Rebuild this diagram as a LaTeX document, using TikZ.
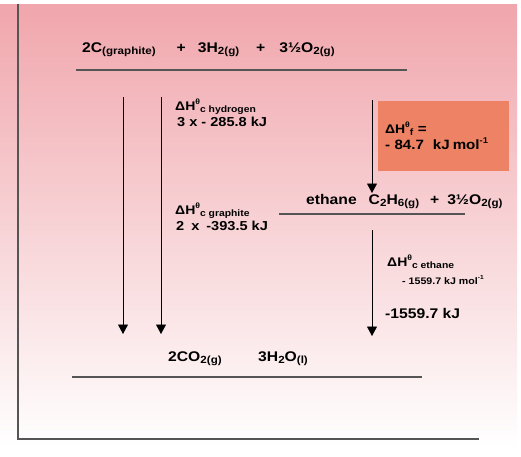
\documentclass[tikz,border=0pt]{standalone}
\usepackage{fontspec}
\setmainfont{Liberation Sans}[FakeStretch=1.12]
\usetikzlibrary{arrows.meta,positioning}
\makeatletter
\newcommand\sbs[1]{\raisebox{-0.35ex}{\fontsize{\fpeval{0.74*\f@size}}{1}\selectfont #1}}
\newcommand\sps[1]{\raisebox{0.85ex}{\fontsize{\fpeval{0.62*\f@size}}{1}\selectfont #1}}
\makeatother
\newcommand\dH[1]{{\fontsize{12.5}{14}\selectfont ΔH\sps{θ}\sbs{#1}}}
\definecolor{bgpink}{RGB}{240,166,172}
\definecolor{boxorange}{RGB}{237,130,100}
\definecolor{axisgray}{RGB}{85,85,85}

\begin{document}
\begin{tikzpicture}[x=1pt,y=-1pt,
  every node/.style={inner sep=0pt,font=\bfseries},
  species/.style={anchor=base west,font=\fontsize{14}{16}\bfseries},
  dhlabel/.style={anchor=base west,align=left,font=\fontsize{13}{16}\bfseries},
  formbox/.style={fill=boxorange,inner sep=7pt,text width=117pt,minimum height=70pt,align=left,font=\fontsize{13.5}{16}\bfseries},
  level/.style={draw=axisgray,line width=1.1pt},
  change/.style={draw=black,line width=0.8pt,-{Triangle[width=10pt,length=9.5pt]}},
  axis/.style={draw=axisgray,line width=1.2pt}]
 \useasboundingbox (0,0) rectangle (521,456);
 \shade[top color=bgpink,bottom color=white] (0,4) rectangle (517,448);
 % axes
 \coordinate (ytop) at (18,4);
 \coordinate (origin) at (18,439);
 \coordinate (xend) at (479,439);
 \draw[axis] (ytop) -- (origin) -- (xend);
 % levels
 \node[species] (elements) at (82,52)
   {2C\sbs{(graphite)}\hspace{21pt}+\hspace{12pt}3H\sbs{2(g)}\hspace{17pt}+\hspace{14pt}3½O\sbs{2(g)}};
 \coordinate (elem-l) at (76,70);
 \coordinate (elem-r) at (407,70);
 \draw[level] (elem-l) -- (elem-r);
 \node[species] (ethane) at (306,204)
   {ethane\hspace{12pt}C\sbs{2}H\sbs{6(g)}\hspace{11pt}+\hspace{8pt}3½O\sbs{2(g)}};
 \coordinate (eth-l) at (279,214);
 \coordinate (eth-r) at (465,214);
 \draw[level] (eth-l) -- (eth-r);
 \node[species] (co2) at (168,361) {2CO\sbs{2(g)}};
 \node[species] (h2o) at (258,361) {3H\sbs{2}O\sbs{(l)}};
 \coordinate (prod-l) at (72,377);
 \coordinate (prod-r) at (422,377);
 \draw[level] (prod-l) -- (prod-r);
 % enthalpy changes
 \coordinate (c-top) at (123,97);   \coordinate (c-bot) at (123,334);
 \coordinate (h-top) at (161,97);   \coordinate (h-bot) at (161,334);
 \coordinate (f-top) at (372,100);  \coordinate (f-bot) at (372,193);
 \coordinate (e-top) at (372,230);  \coordinate (e-bot) at (372,336);
 \foreach \a in {c,h,f,e}
   \draw[change] (\a-top) -- (\a-bot);
 % labels
 \node[dhlabel] (hydrogen) at (175,126) {\dH{c hydrogen}\\\hspace{2pt}3 x - 285.8 kJ};
 \node[dhlabel] (graphite) at (175,230) {\dH{c graphite}\\\hspace{1pt}2\hspace{7pt}x\hspace{7pt}-393.5 kJ};
 \node[formbox] (formation) at (443.5,136)
   {\dH{f} =\\ - 84.7\hspace{9pt}kJ\hspace{3pt}mol\sps{-1}};
 \node[anchor=base west] (comb) at (387,266) {\dH{c ethane}};
 \node[anchor=base west,font=\fontsize{9.5}{10}\bfseries] (comb-mol) at (402,284) {- 1559.7 kJ mol\sps{-1}};
 \node[species] (comb-val) at (385,318) {-1559.7 kJ};
\end{tikzpicture}
\end{document}
